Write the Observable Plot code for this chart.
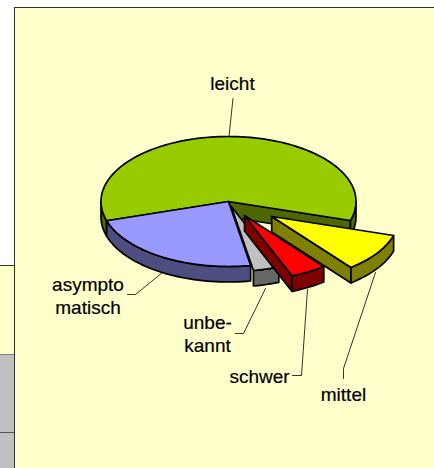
<!DOCTYPE html>
<html><head><meta charset="utf-8">
<style>html,body{margin:0;padding:0;background:#fff}svg{display:block}</style>
<script src="https://cdn.jsdelivr.net/npm/d3@7"></script>
<script src="https://cdn.jsdelivr.net/npm/@observablehq/plot@0.6"></script>
</head><body><script>
// Chart values, clockwise from the cut at the lower right
const categories = ["mittel","schwer","unbekannt","asymptomatisch","leicht"];
const shares = [9.6,4.6,3.3,23,59.5];
const labelTexts = ["mittel","schwer","unbe-\nkannt","asympto\nmatisch","leicht"];

// Styling and layout, kept apart from the values
const topColors  = ["#ffff00","#ff0000","#c0c0c0","#9999ff","#99cc00"];
const sideColors = ["#808000","#800000","#666666","#4d4d80","#4d6600"];
const explode = [0.41,0.25,0.08,0,0];
const W=434,H=468,CX=228,CY=201,RX=127.5,RY=65,DEPTH=15.5/65,START=17;
const ux=p=>(p-CX)/RX, uy=p=>(p-CY)/RY;
const labelAt = [[343,393],[259,375],[207,332.5],[87.5,294.5],[232,82]];
const leaders = [
  [[343,378],[343,368],[375,272]],
  [[292,375],[301,375],[307,289]],
  [[235,333],[243,333],[265,288]],
  [[127,294],[135,294],[162,272]],
  [[232.5,98],[228.5,136]]
];

const rad=d=>d*Math.PI/180;
let a=START;
const slices=categories.map((c,i)=>{
  const a0=a,a1=a+shares[i]*3.6; a=a1;
  const m=rad((a0+a1)/2);
  return {c,i,a0,a1,ox:explode[i]*Math.cos(m),oy:explode[i]*Math.sin(m)};
});
const pt=(s,deg,dz=0)=>({x:s.ox+Math.cos(rad(deg)),y:s.oy+Math.sin(rad(deg))+dz});
const apex=(s,dz=0)=>({x:s.ox,y:s.oy+dz});
function arc(s,a0,a1,dz=0){
  const n=Math.max(2,Math.ceil(Math.abs(a1-a0)/2)),out=[];
  for(let k=0;k<=n;k++)out.push(pt(s,a0+(a1-a0)*k/n,dz));
  return out;
}
const poly=(pts,fill)=>Plot.line(pts,{x:"x",y:"y",fill,stroke:"#000",strokeWidth:1.7,strokeLinejoin:"round",curve:"linear-closed"});
function wall(s,a0,a1){
  const out=[];
  for(const [lo,hi] of [[0,180],[360,540]]){
    const p=Math.max(a0,lo),q=Math.min(a1,hi);
    if(q>p) out.push(poly([...arc(s,p,q),...arc(s,q,p,DEPTH)],sideColors[s.i]));
  }
  return out;
}
const cut=(s,deg)=>poly([apex(s),pt(s,deg),pt(s,deg,DEPTH),apex(s,DEPTH)],sideColors[s.i]);
const topFace=s=>poly([apex(s),...arc(s,s.a0,s.a1)],topColors[s.i]);

const [mittel,schwer,unbek,asym,leicht]=slices;
const marks3d=[
  cut(leicht,leicht.a1), ...wall(leicht,leicht.a0,leicht.a1), topFace(leicht),
  ...wall(asym,asym.a0,asym.a1), topFace(asym),
  ...wall(unbek,unbek.a0,unbek.a1), topFace(unbek),
  cut(schwer,schwer.a1), ...wall(schwer,schwer.a0,schwer.a1), topFace(schwer),
  cut(mittel,mittel.a1), ...wall(mittel,mittel.a0,mittel.a1), topFace(mittel)
];

const band=(x1,y1,x2,y2,fill)=>Plot.rect([{}],{x1:()=>ux(x1),x2:()=>ux(x2),y1:()=>uy(y1),y2:()=>uy(y2),fill});
const bg=[
  band(15,8,W,H,"#ffffcc"),
  band(0,266,14,354,"#ffffcc"),
  band(0,354,14,H,"#c0c0c0"),
  band(0,265,14,266,"#333"),
  band(0,354,14,355,"#808080"),
  band(0,432,14,433,"#555"),
  band(14,7,W,8,"#333"),
  band(14,7,15,H,"#333")
];

const plot=Plot.plot({
  width:W,height:H,margin:0,
  x:{domain:[ux(0),ux(W)],range:[0,W],axis:null},
  y:{domain:[uy(0),uy(H)],range:[0,H],axis:null},
  style:{background:"transparent"},
  marks:[
    ...bg,
    ...marks3d,
    ...leaders.map(l=>Plot.line(l,{x:d=>ux(d[0]),y:d=>uy(d[1]),stroke:"#000",strokeWidth:0.8})),
    Plot.text(labelTexts,{
      x:(d,i)=>ux(labelAt[i][0]),y:(d,i)=>uy(labelAt[i][1]),text:d=>d,
      fontFamily:"Liberation Sans, Arial, sans-serif",fontSize:19,fill:"#000",stroke:"#000",strokeWidth:0.2,lineHeight:1.21
    })
  ]
});
document.body.appendChild(plot);
</script></body></html>
